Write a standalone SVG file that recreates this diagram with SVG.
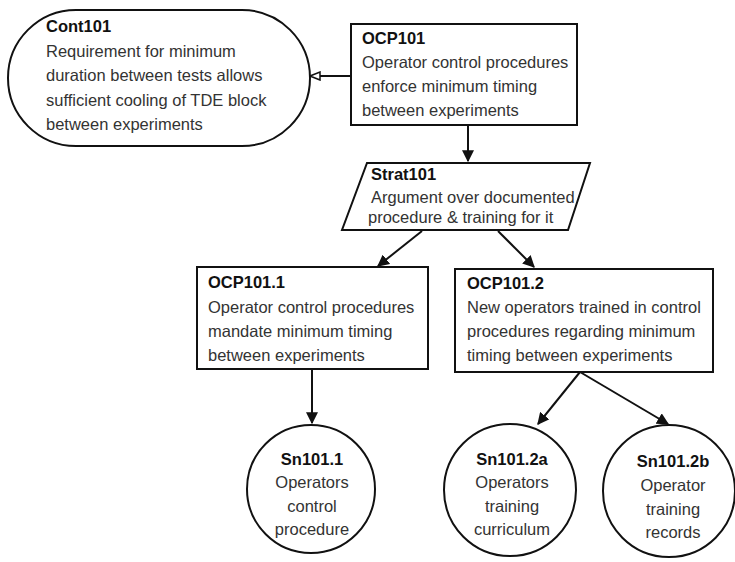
<svg xmlns="http://www.w3.org/2000/svg" width="735" height="562" viewBox="0 0 735 562">
<defs>
<style>
.shape{fill:#fff;stroke:#111;stroke-width:2}
.t{font-family:"Liberation Sans",Arial,sans-serif;font-size:16.5px;fill:#333}
.b{font-weight:bold;fill:#111}
.c{text-anchor:middle}
.edge{stroke:#111;stroke-width:2;fill:none}
</style>
<marker id="arr" viewBox="0 0 10 10" refX="9" refY="5" markerWidth="6" markerHeight="6" orient="auto" markerUnits="strokeWidth">
<path d="M0,0 L10,5 L0,10 Z" fill="#111"/>
</marker>
<marker id="hollow" viewBox="0 0 12 10" refX="11" refY="5" markerWidth="6" markerHeight="5" orient="auto" markerUnits="strokeWidth">
<path d="M1,1 L11,5 L1,9 Z" fill="#fff" stroke="#111" stroke-width="1.5"/>
</marker>
</defs>
<rect width="735" height="562" fill="#fff"/>
<g id="connectors">
<line class="edge" x1="351" y1="76" x2="310" y2="76" marker-end="url(#hollow)"/>
<line class="edge" x1="468" y1="125" x2="468" y2="161" marker-end="url(#arr)"/>
<line class="edge" x1="422" y1="231" x2="378" y2="266" marker-end="url(#arr)"/>
<line class="edge" x1="498" y1="231" x2="534" y2="267" marker-end="url(#arr)"/>
<line class="edge" x1="312" y1="369" x2="312" y2="423" marker-end="url(#arr)"/>
<line class="edge" x1="580" y1="372" x2="538" y2="424" marker-end="url(#arr)"/>
<line class="edge" x1="580" y1="372" x2="668" y2="424" marker-end="url(#arr)"/>
</g>
<g id="Cont101">
<rect class="shape" x="8" y="10" width="302" height="136" rx="68" ry="68"/>
<text class="t b" x="46" y="32">Cont101</text>
<text class="t" x="46" y="57">Requirement for minimum</text>
<text class="t" x="46" y="81">duration between tests allows</text>
<text class="t" x="46" y="106">sufficient cooling of TDE block</text>
<text class="t" x="46" y="130">between experiments</text>
</g>
<g id="OCP101">
<rect class="shape" x="351" y="24" width="226" height="101"/>
<text class="t b" x="362" y="44">OCP101</text>
<text class="t" x="362" y="68">Operator control procedures</text>
<text class="t" x="362" y="92">enforce minimum timing</text>
<text class="t" x="362" y="116">between experiments</text>
</g>
<g id="Strat101">
<polygon class="shape" points="367,163 590,163 568,230 342,230"/>
<text class="t b" x="371" y="180">Strat101</text>
<text class="t" x="371" y="203">Argument over documented</text>
<text class="t" x="368" y="223">procedure &amp; training for it</text>
</g>
<g id="OCP101.1">
<rect class="shape" x="197" y="267" width="231" height="102"/>
<text class="t b" x="208" y="288">OCP101.1</text>
<text class="t" x="208" y="313">Operator control procedures</text>
<text class="t" x="208" y="337">mandate minimum timing</text>
<text class="t" x="208" y="361">between experiments</text>
</g>
<g id="OCP101.2">
<rect class="shape" x="455" y="269" width="258" height="103"/>
<text class="t b" x="467" y="289">OCP101.2</text>
<text class="t" x="467" y="313">New operators trained in control</text>
<text class="t" x="467" y="337">procedures regarding minimum</text>
<text class="t" x="467" y="361">timing between experiments</text>
</g>
<g id="Sn101.1">
<circle class="shape" cx="311" cy="489" r="64"/>
<text class="t b c" x="312" y="465">Sn101.1</text>
<text class="t c" x="312" y="488">Operators</text>
<text class="t c" x="312" y="512">control</text>
<text class="t c" x="312" y="535">procedure</text>
</g>
<g id="Sn101.2a">
<circle class="shape" cx="510" cy="490" r="66"/>
<text class="t b c" x="512" y="465">Sn101.2a</text>
<text class="t c" x="512" y="488">Operators</text>
<text class="t c" x="512" y="512">training</text>
<text class="t c" x="512" y="535">curriculum</text>
</g>
<g id="Sn101.2b">
<circle class="shape" cx="669" cy="491" r="66"/>
<text class="t b c" x="673" y="467">Sn101.2b</text>
<text class="t c" x="673" y="491">Operator</text>
<text class="t c" x="673" y="515">training</text>
<text class="t c" x="673" y="538">records</text>
</g>
</svg>
